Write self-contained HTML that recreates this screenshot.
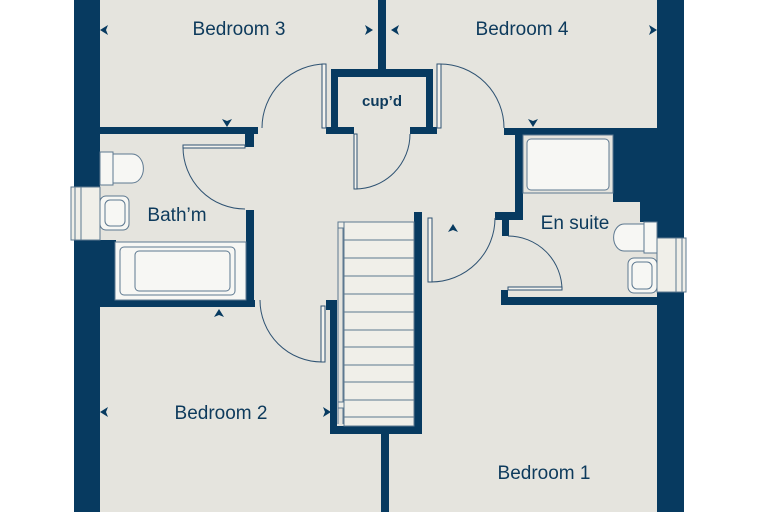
<!DOCTYPE html>
<html><head><meta charset="utf-8"><style>
html,body{margin:0;padding:0;background:#fff;}
svg{display:block;}
text{font-family:"Liberation Sans",sans-serif;fill:#0d3a5c;}
</style></head><body>
<svg width="760" height="512" viewBox="0 0 760 512" xmlns="http://www.w3.org/2000/svg">
<rect x="0" y="0" width="760" height="512" fill="#fff"/>
<rect x="74" y="0" width="610" height="512" fill="#e5e4de"/>
<g fill="#073a60">
<rect x="74" y="0" width="26" height="187"/>
<rect x="74" y="240" width="26" height="272"/>
<rect x="74" y="240" width="42" height="67"/>
<rect x="657" y="0" width="27" height="238"/>
<rect x="657" y="292" width="27" height="220"/>
<rect x="613" y="128" width="44" height="74"/>
<rect x="640" y="200" width="17" height="22"/>
<rect x="100" y="127" width="158" height="7"/>
<rect x="245" y="127" width="9" height="20"/>
<rect x="246" y="210" width="8" height="97"/>
<rect x="100" y="300" width="155" height="7"/>
<rect x="378" y="0" width="8" height="72"/>
<rect x="331" y="69" width="102" height="8"/>
<rect x="331" y="69" width="7" height="65"/>
<rect x="426" y="69" width="7" height="65"/>
<rect x="326" y="127" width="28" height="7"/>
<rect x="410" y="127" width="27" height="7"/>
<rect x="504" y="128" width="153" height="7"/>
<rect x="515" y="128" width="8" height="92"/>
<rect x="495" y="212" width="28" height="8"/>
<rect x="502" y="212" width="7" height="24"/>
<rect x="501" y="297" width="156" height="8"/>
<rect x="501" y="290" width="7" height="15"/>
<rect x="330" y="300" width="7" height="134"/>
<rect x="414" y="212" width="8" height="222"/>
<rect x="330" y="426" width="92" height="8"/>
<rect x="381" y="434" width="8" height="78"/>
<rect x="326" y="300" width="10" height="10"/>
</g>
<g fill="#f0efe9" stroke="#5d7890" stroke-width="1">
<rect x="71" y="187" width="29" height="53"/>
<rect x="75" y="187" width="6" height="53"/>
<rect x="657" y="238" width="29" height="54"/>
<rect x="676" y="238" width="6" height="54"/>
</g>
<g fill="none" stroke="#2e5272" stroke-width="1">
<path d="M326 64 A64 64 0 0 0 262 128"/>
<rect x="322" y="64" width="4" height="64" fill="#f4f3ee"/>
<path d="M440 64 A64 64 0 0 1 504 128"/>
<rect x="437" y="64" width="4" height="64" fill="#f4f3ee"/>
<path d="M183 147 A62 62 0 0 0 245 209"/>
<rect x="183" y="145" width="62" height="3" fill="#f4f3ee"/>
<path d="M410 134 A55 55 0 0 1 355 189"/>
<rect x="354" y="134" width="3" height="55" fill="#f4f3ee"/>
<path d="M260 300 A62 62 0 0 0 322 362"/>
<rect x="321" y="306" width="4" height="56" fill="#f4f3ee"/>
<path d="M495 218 A64 64 0 0 1 431 282"/>
<rect x="428" y="218" width="4" height="64" fill="#f4f3ee"/>
<path d="M508 236 A54 54 0 0 1 562 290"/>
<rect x="508" y="287" width="54" height="3" fill="#f4f3ee"/>
</g>
<g stroke="#5d7890" stroke-width="1" fill="none">
<rect x="344" y="222" width="70" height="204" fill="#f0efe9"/>
<line x1="338" y1="224" x2="338" y2="424"/>
<line x1="343" y1="224" x2="343" y2="424"/>
<rect x="338" y="222" width="6" height="6" fill="#f0efe9"/>
<rect x="338" y="402" width="6" height="6" fill="#f0efe9"/>
<path d="M344 240H414M344 258H414M344 276H414M344 294H414M344 312H414M344 330H414M344 347H414M344 365H414M344 382H414M344 400H414M344 417H414"/>
</g>
<g stroke="#5d7890" stroke-width="1" fill="#f7f7f4">
<rect x="115" y="242" width="131" height="58"/>
<rect x="120" y="247" width="115" height="48" rx="4"/>
<rect x="135" y="251" width="95" height="40" rx="4"/>
<rect x="100" y="152" width="13" height="33"/>
<path d="M113 154 H132 A11 14 0 0 1 132 183 H113 Z"/>
<rect x="100" y="196" width="29" height="34" rx="6"/>
<rect x="105" y="200" width="20" height="26" rx="5"/>
<rect x="523" y="135" width="90" height="58" fill="#e5e4de"/>
<rect x="527" y="139" width="82" height="51" rx="4"/>
<rect x="644" y="222" width="13" height="31"/>
<path d="M644 224 H624 A10 13 0 0 0 624 251 H644 Z"/>
<rect x="628" y="258" width="29" height="35" rx="6"/>
<rect x="632" y="262" width="20" height="27" rx="5"/>
</g>
<g fill="#073a60">
<path d="M100 30 l8 -5 l-2 5 l2 5z"/>
<path d="M373 30 l-8 -5 l2 5 l-2 5z"/>
<path d="M391 30 l8 -5 l-2 5 l2 5z"/>
<path d="M657 30 l-8 -5 l2 5 l-2 5z"/>
<path d="M227 127 l-5 -8 l5 2 l5 -2z"/>
<path d="M533 127 l-5 -8 l5 2 l5 -2z"/>
<path d="M219 309 l-5 8 l5 -2 l5 2z"/>
<path d="M453 224 l-5 8 l5 -2 l5 2z"/>
<path d="M100 412 l8 -5 l-2 5 l2 5z"/>
<path d="M331 412 l-8 -5 l2 5 l-2 5z"/>
</g>
<g font-size="19">
<text x="239" y="35" text-anchor="middle">Bedroom 3</text>
<text x="522" y="35" text-anchor="middle">Bedroom 4</text>
<text x="177" y="221" text-anchor="middle">Bath’m</text>
<text x="575" y="229" text-anchor="middle">En suite</text>
<text x="221" y="419" text-anchor="middle">Bedroom 2</text>
<text x="544" y="479" text-anchor="middle">Bedroom 1</text>
</g>
<text x="382" y="106" text-anchor="middle" font-size="15" font-weight="bold">cup’d</text>
</svg>
</body></html>
